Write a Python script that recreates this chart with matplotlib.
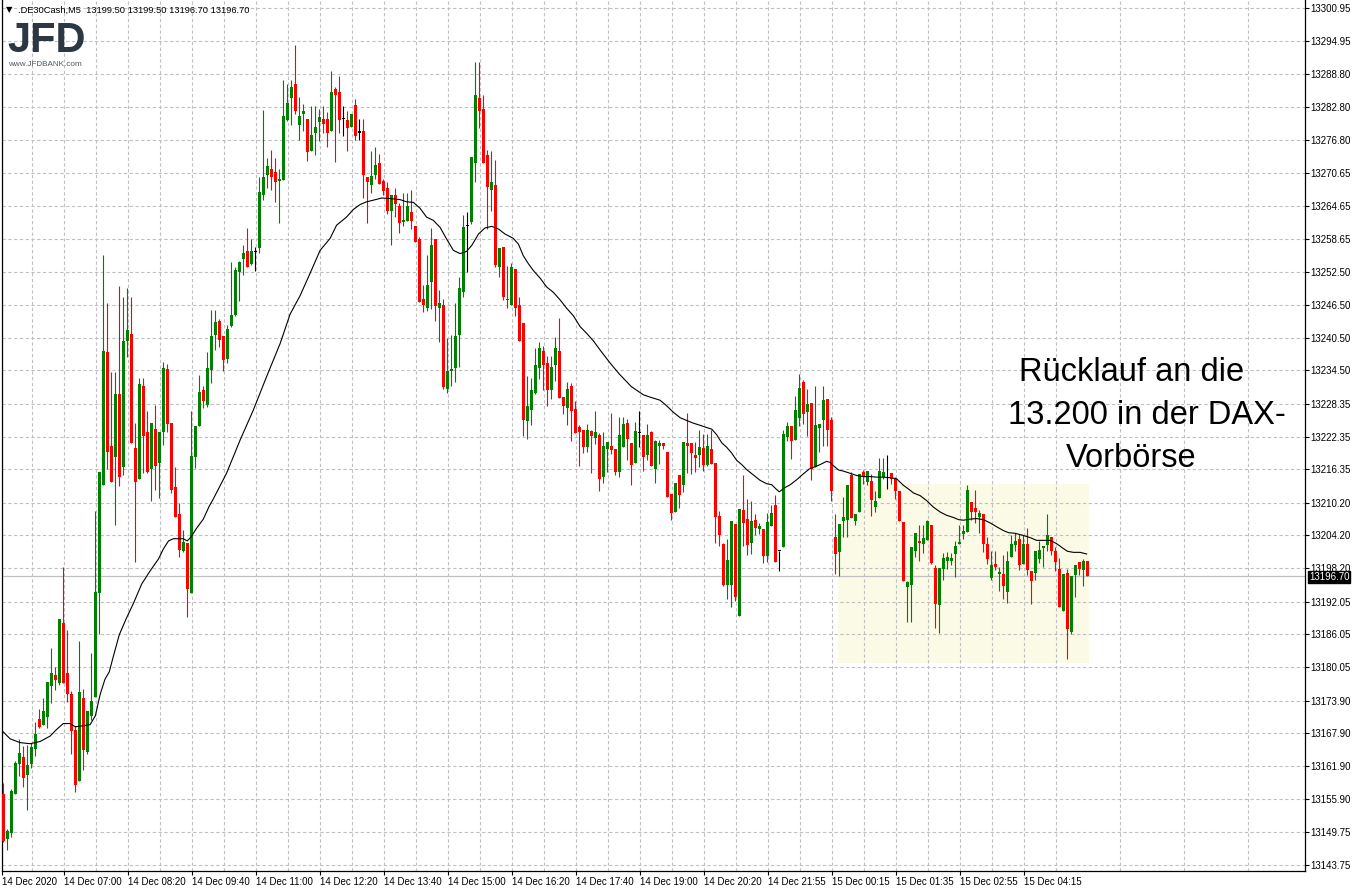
import matplotlib
matplotlib.use("Agg")
import matplotlib.pyplot as plt
import matplotlib.transforms as mtransforms
from matplotlib.patches import Rectangle
import numpy as np

# DE30 M5 candles (candle 1 = first bar on the left)
opens = [
    13156.7, 13148.6, 13149.6, 13156.8, 13162.2, 13163.6, 13160.2, 13162.2, 13165.0, 13170.6,
    13169.5, 13170.9, 13176.5, 13178.6, 13177.2, 13188.2, 13178.9, 13175.1, 13168.5, 13159.1,
    13174.4, 13164.4, 13171.1, 13174.5, 13193.6, 13213.5, 13237.9, 13220.6, 13218.5, 13230.2,
    13216.7, 13239.9, 13241.2, 13220.2, 13214.6, 13231.6, 13223.2, 13216.4, 13223.7, 13217.4,
    13223.2, 13234.7, 13224.9, 13213.1, 13208.2, 13201.4, 13202.8, 13193.6, 13218.5, 13224.2,
    13230.8, 13228.1, 13234.6, 13240.9, 13243.6, 13240.7, 13236.6, 13242.6, 13244.6, 13252.5,
    13254.9, 13256.3, 13254.0, 13256.2, 13257.0, 13266.6, 13270.4, 13271.5, 13270.8, 13269.3,
    13269.4, 13280.4, 13284.4, 13287.1, 13279.4, 13281.5, 13280.5, 13274.8, 13278.1, 13280.0,
    13280.5, 13280.5, 13278.3, 13286.1, 13285.6, 13280.6, 13280.4, 13279.1, 13283.2, 13278.1,
    13278.3, 13270.0, 13268.5, 13270.4, 13272.6, 13269.2, 13268.0, 13263.7, 13266.6, 13264.6,
    13261.7, 13261.9, 13263.6, 13261.0, 13258.5, 13247.5, 13245.9, 13250.7, 13258.5, 13246.0,
    13246.5, 13231.0, 13234.3, 13234.9, 13241.0, 13248.9, 13261.0, 13261.7, 13272.5, 13284.5,
    13282.5, 13274.0, 13267.5, 13268.5, 13253.4, 13257.2, 13247.6, 13246.5, 13253.0, 13246.5,
    13243.1, 13225.2, 13227.3, 13230.3, 13234.9, 13238.0, 13235.9, 13230.9, 13235.4, 13238.1,
    13229.6, 13227.6, 13231.7, 13227.4, 13224.1, 13223.6, 13220.4, 13223.4, 13222.0, 13222.7,
    13214.9, 13220.1, 13220.7, 13220.1, 13215.8, 13220.4, 13224.8, 13221.1, 13217.5, 13223.0,
    13222.7, 13218.9, 13223.1, 13216.4, 13220.6, 13221.2, 13219.6, 13211.8, 13208.5, 13215.2,
    13213.5, 13221.1, 13221.1, 13219.0, 13219.0, 13220.2, 13217.2, 13220.1, 13217.5, 13207.8,
    13202.7, 13195.2, 13195.2, 13206.3, 13189.5, 13208.8, 13207.2, 13202.9, 13207.1, 13205.3,
    13205.4, 13200.5, 13206.0, 13209.8, 13201.3, 13202.0, 13222.2, 13224.3, 13221.8, 13225.7,
    13232.4, 13226.8, 13228.5, 13216.7, 13224.0, 13225.3, 13229.3, 13225.4, 13204.0, 13201.1,
    13206.8, 13207.0, 13215.2, 13206.9, 13208.5, 13215.8, 13214.0, 13214.1, 13209.4, 13211.0,
    13215.0, 13214.8, 13215.7, 13214.6, 13212.3, 13206.6, 13194.8, 13195.1, 13201.4, 13203.2,
    13202.6, 13203.3, 13206.2, 13198.3, 13191.4, 13198.0, 13199.5, 13199.5, 13200.8, 13202.7,
    13204.4, 13204.8, 13210.3, 13209.3, 13207.6, 13208.2, 13202.6, 13196.4, 13199.0, 13197.2,
    13197.2, 13193.8, 13200.3, 13202.4, 13203.6, 13199.0, 13202.7, 13197.7, 13197.3, 13199.9,
    13201.9, 13202.5, 13204.0, 13201.3, 13198.1, 13190.4, 13197.3, 13186.5, 13197.0, 13199.4,
    13197.9, 13199.5,
]
highs = [
    13158.8, 13150.3, 13157.7, 13162.9, 13166.8, 13165.5, 13165.8, 13166.2, 13169.9, 13172.4,
    13174.4, 13177.3, 13183.6, 13180.0, 13188.9, 13198.4, 13186.9, 13175.7, 13169.3, 13184.9,
    13176.0, 13172.0, 13182.7, 13208.6, 13215.9, 13255.6, 13246.9, 13234.2, 13234.2, 13250.0,
    13248.0, 13249.5, 13248.0, 13224.9, 13233.1, 13233.1, 13227.0, 13224.8, 13228.1, 13223.2,
    13236.0, 13235.7, 13224.9, 13216.7, 13210.2, 13205.2, 13202.8, 13227.0, 13224.2, 13233.6,
    13231.7, 13237.8, 13245.6, 13245.6, 13243.9, 13240.7, 13242.8, 13254.4, 13253.5, 13254.5,
    13257.5, 13260.6, 13258.5, 13257.1, 13270.0, 13282.2, 13273.5, 13274.9, 13273.5, 13271.4,
    13287.8, 13287.1, 13287.8, 13294.1, 13284.6, 13283.3, 13280.5, 13283.0, 13283.0, 13282.4,
    13283.0, 13281.8, 13289.4, 13286.5, 13288.5, 13283.0, 13282.1, 13281.5, 13284.2, 13280.5,
    13280.5, 13270.0, 13274.7, 13275.5, 13274.1, 13269.6, 13269.0, 13266.6, 13268.0, 13265.2,
    13267.1, 13267.1, 13267.6, 13261.0, 13258.9, 13250.1, 13255.7, 13260.6, 13258.5, 13249.3,
    13247.5, 13240.5, 13241.0, 13246.9, 13251.6, 13263.0, 13263.6, 13273.6, 13291.1, 13291.1,
    13285.0, 13274.9, 13274.8, 13273.1, 13257.0, 13257.2, 13253.6, 13254.1, 13253.0, 13248.0,
    13243.1, 13233.5, 13233.0, 13238.5, 13239.6, 13238.9, 13237.2, 13237.2, 13240.6, 13244.0,
    13229.6, 13232.3, 13232.2, 13228.9, 13224.4, 13223.6, 13224.6, 13223.6, 13227.0, 13223.0,
    13223.2, 13221.3, 13226.6, 13220.1, 13226.0, 13226.0, 13225.6, 13221.1, 13225.0, 13227.0,
    13222.7, 13224.6, 13223.3, 13221.7, 13221.7, 13221.2, 13219.6, 13211.8, 13213.8, 13215.2,
    13221.3, 13226.6, 13221.1, 13221.3, 13223.6, 13222.8, 13222.8, 13223.6, 13217.5, 13208.6,
    13202.9, 13203.5, 13206.9, 13206.3, 13209.1, 13215.2, 13210.9, 13210.6, 13208.2, 13206.4,
    13205.4, 13208.4, 13209.7, 13211.7, 13201.3, 13223.5, 13225.1, 13224.3, 13229.7, 13233.9,
    13232.8, 13231.0, 13228.5, 13231.7, 13224.6, 13231.7, 13229.3, 13226.0, 13208.2, 13206.3,
    13211.3, 13213.5, 13215.8, 13208.1, 13215.5, 13216.2, 13216.1, 13215.4, 13212.4, 13218.4,
    13218.4, 13219.0, 13215.7, 13215.0, 13212.3, 13206.6, 13195.9, 13202.1, 13204.7, 13206.1,
    13206.1, 13207.1, 13206.2, 13198.8, 13198.3, 13201.0, 13201.2, 13201.0, 13203.2, 13206.1,
    13206.1, 13213.5, 13210.3, 13212.6, 13208.9, 13208.2, 13204.0, 13201.4, 13201.4, 13198.5,
    13200.7, 13201.4, 13204.2, 13204.6, 13204.5, 13204.2, 13205.6, 13197.7, 13201.3, 13203.2,
    13202.2, 13208.1, 13204.0, 13202.1, 13200.1, 13197.2, 13198.1, 13196.7, 13198.7, 13199.4,
    13199.9, 13199.5,
]
lows = [
    13147.9, 13146.5, 13148.9, 13156.8, 13160.0, 13158.1, 13153.9, 13161.5, 13163.7, 13168.8,
    13169.4, 13168.9, 13173.5, 13175.8, 13176.7, 13177.2, 13173.7, 13164.1, 13157.2, 13159.1,
    13161.2, 13164.1, 13170.4, 13174.5, 13186.1, 13213.5, 13216.3, 13214.0, 13206.2, 13213.2,
    13215.2, 13236.9, 13221.1, 13199.3, 13214.5, 13215.7, 13215.7, 13210.5, 13212.6, 13211.0,
    13220.8, 13223.1, 13212.0, 13207.6, 13200.2, 13201.1, 13189.2, 13193.6, 13216.5, 13224.2,
    13227.5, 13227.8, 13232.2, 13238.3, 13238.8, 13234.4, 13235.8, 13242.4, 13244.5, 13247.2,
    13252.0, 13253.5, 13253.9, 13252.8, 13256.0, 13265.8, 13268.0, 13267.5, 13265.3, 13261.5,
    13269.4, 13280.2, 13279.5, 13281.5, 13276.8, 13278.3, 13272.9, 13274.8, 13273.9, 13276.5,
    13278.0, 13275.4, 13278.3, 13272.7, 13278.0, 13277.4, 13274.7, 13279.1, 13276.8, 13276.7,
    13266.1, 13261.5, 13267.0, 13269.6, 13268.6, 13266.6, 13263.1, 13257.4, 13262.6, 13259.6,
    13260.9, 13261.9, 13260.4, 13258.0, 13247.1, 13245.1, 13245.3, 13245.8, 13243.5, 13239.6,
    13231.0, 13230.4, 13231.6, 13232.4, 13235.1, 13247.9, 13252.5, 13261.4, 13269.1, 13278.9,
    13272.6, 13260.4, 13263.8, 13253.4, 13251.6, 13247.3, 13245.9, 13246.5, 13244.5, 13239.8,
    13222.4, 13221.9, 13224.5, 13230.2, 13232.9, 13230.9, 13227.9, 13229.3, 13232.6, 13229.4,
    13226.5, 13224.4, 13221.5, 13223.0, 13216.9, 13219.3, 13219.5, 13215.7, 13221.0, 13212.4,
    13213.8, 13215.8, 13219.2, 13215.2, 13214.9, 13220.4, 13218.0, 13213.5, 13217.5, 13220.4,
    13216.1, 13218.1, 13216.9, 13213.8, 13217.3, 13220.1, 13211.2, 13207.1, 13208.5, 13209.3,
    13212.1, 13215.6, 13215.5, 13215.8, 13216.8, 13216.1, 13217.0, 13217.3, 13202.9, 13202.3,
    13195.0, 13192.5, 13191.0, 13192.1, 13189.5, 13202.3, 13200.7, 13200.8, 13204.3, 13204.5,
    13199.2, 13199.4, 13206.0, 13199.4, 13197.6, 13202.0, 13221.5, 13218.2, 13221.8, 13224.2,
    13224.7, 13222.5, 13214.3, 13216.7, 13219.5, 13220.7, 13220.7, 13210.6, 13197.1, 13196.8,
    13203.9, 13203.9, 13207.4, 13206.2, 13208.5, 13213.7, 13213.4, 13207.8, 13208.5, 13211.0,
    13214.6, 13212.7, 13213.7, 13210.9, 13206.9, 13195.8, 13188.3, 13188.4, 13200.2, 13199.5,
    13200.9, 13203.3, 13198.9, 13187.2, 13186.3, 13196.1, 13198.1, 13198.8, 13196.5, 13202.7,
    13203.6, 13204.8, 13207.0, 13206.4, 13204.7, 13201.2, 13198.9, 13196.1, 13197.8, 13194.0,
    13192.6, 13191.8, 13200.3, 13201.4, 13197.9, 13198.9, 13196.9, 13191.7, 13196.1, 13199.2,
    13198.5, 13201.4, 13200.7, 13197.7, 13191.0, 13190.4, 13181.6, 13186.1, 13192.9, 13196.9,
    13195.0, 13196.7,
]
closes = [
    13148.2, 13150.0, 13157.4, 13162.4, 13164.3, 13159.8, 13162.1, 13165.4, 13167.8, 13169.1,
    13172.0, 13177.3, 13179.0, 13177.7, 13188.9, 13177.2, 13175.2, 13168.3, 13158.4, 13175.5,
    13164.8, 13172.0, 13173.8, 13193.9, 13215.9, 13238.1, 13219.5, 13214.0, 13230.1, 13215.0,
    13239.9, 13241.8, 13221.1, 13214.0, 13232.0, 13222.5, 13215.9, 13224.8, 13217.0, 13223.2,
    13235.0, 13224.7, 13212.6, 13207.6, 13201.6, 13203.0, 13194.3, 13218.8, 13224.2, 13230.5,
    13228.9, 13235.0, 13240.7, 13243.4, 13240.0, 13236.3, 13242.1, 13244.6, 13252.9, 13254.4,
    13256.1, 13253.5, 13256.4, 13256.2, 13267.2, 13270.0, 13272.0, 13269.9, 13269.0, 13269.6,
    13281.1, 13283.6, 13286.5, 13282.1, 13281.1, 13282.1, 13274.5, 13277.7, 13279.1, 13281.0,
    13279.7, 13278.0, 13285.6, 13285.0, 13280.4, 13280.6, 13278.9, 13281.5, 13277.4, 13278.1,
    13270.4, 13269.0, 13270.2, 13272.1, 13268.6, 13267.4, 13263.8, 13266.6, 13265.0, 13261.5,
    13262.1, 13264.6, 13261.8, 13258.0, 13247.1, 13246.5, 13250.1, 13257.5, 13246.3, 13246.9,
    13231.5, 13234.3, 13234.8, 13240.8, 13249.6, 13260.7, 13261.0, 13273.6, 13285.0, 13282.1,
    13272.6, 13268.1, 13269.1, 13253.8, 13257.0, 13247.9, 13247.3, 13253.5, 13246.0, 13239.9,
    13225.3, 13228.0, 13230.8, 13235.5, 13238.5, 13235.4, 13230.9, 13235.1, 13238.5, 13229.4,
    13227.9, 13231.1, 13227.0, 13223.0, 13223.2, 13220.5, 13223.5, 13222.4, 13223.1, 13214.6,
    13220.7, 13221.3, 13219.8, 13215.8, 13222.7, 13224.6, 13221.9, 13217.2, 13223.3, 13223.0,
    13218.6, 13222.7, 13216.9, 13221.5, 13221.1, 13220.6, 13211.2, 13208.3, 13213.8, 13211.6,
    13221.3, 13220.6, 13219.3, 13218.4, 13220.5, 13217.2, 13220.7, 13217.3, 13207.6, 13204.2,
    13195.2, 13199.7, 13206.9, 13193.0, 13209.1, 13206.5, 13202.4, 13206.9, 13205.6, 13205.9,
    13200.4, 13206.6, 13208.4, 13199.4, 13201.3, 13222.9, 13224.2, 13221.6, 13227.3, 13231.3,
    13226.5, 13228.4, 13216.4, 13224.4, 13224.6, 13229.1, 13223.6, 13212.3, 13200.8, 13206.3,
    13207.5, 13213.5, 13207.4, 13208.1, 13215.5, 13215.0, 13216.1, 13210.7, 13210.6, 13216.0,
    13215.9, 13214.8, 13214.6, 13212.3, 13206.9, 13195.9, 13195.6, 13202.1, 13204.7, 13202.8,
    13203.7, 13206.9, 13199.2, 13191.7, 13198.3, 13200.1, 13200.2, 13200.1, 13202.2, 13203.0,
    13205.1, 13212.5, 13208.5, 13208.5, 13208.3, 13202.7, 13199.8, 13198.7, 13198.5, 13197.5,
    13195.0, 13199.6, 13202.7, 13203.1, 13198.7, 13202.7, 13197.8, 13195.8, 13201.3, 13201.6,
    13202.2, 13204.2, 13201.4, 13199.3, 13191.0, 13197.2, 13187.1, 13196.7, 13198.7, 13198.1,
    13199.6, 13196.7,
]

# moving average line (black), read at these candle positions
ma_pos = [
    0.8, 2.7, 5.2, 7.7, 10.2, 12.7, 14.3, 16.0, 17.7, 19.0, 21.0, 22.7, 24.0, 25.2, 26.4,
    27.5, 28.5, 30.0, 31.7, 33.5, 35.6, 37.7, 39.8, 41.0, 42.3, 43.5, 46.0, 47.0, 48.0,
    49.3, 51.0, 52.5, 53.5, 56.8, 60.2, 63.5, 66.8, 70.2, 72.7, 75.2, 77.7, 80.2, 82.7,
    84.3, 86.8, 88.5, 90.2, 91.8, 93.5, 95.6, 97.7, 100.2, 101.8, 103.5, 105.2, 106.8,
    108.5, 110.2, 111.8, 113.5, 115.2, 116.8, 118.1, 119.8, 121.4, 123.1, 124.8, 126.4,
    128.5, 129.8, 131.0, 132.3, 133.5, 135.2, 136.8, 138.5, 140.2, 141.8, 143.5, 145.2,
    146.8, 148.5, 150.2, 152.5, 155.0, 158.0, 161.0, 163.0, 165.2, 166.8, 168.5, 170.2,
    171.8, 173.5, 175.2, 176.8, 178.1, 179.3, 180.6, 181.8, 183.1, 184.3, 185.6, 186.8,
    188.5, 190.2, 191.8, 193.1, 194.2, 195.0, 196.2, 197.7, 199.3, 201.0, 202.5, 203.5,
    205.2, 206.8, 207.7, 208.5, 209.8, 211.0, 212.7, 214.3, 216.0, 217.7, 219.3, 221.0,
    222.7, 224.3, 226.0, 227.5, 228.5, 230.2, 231.8, 233.5, 235.2, 236.8, 238.5, 239.8,
    241.0, 242.7, 244.3, 246.0, 247.7, 249.3, 251.0, 252.3, 253.9, 256.0, 257.7, 259.3,
    261.0, 262.7, 264.3, 266.0, 267.0, 268.5, 270.2, 271.8,
]
ma_val = [
    13168.3, 13166.9, 13166.2, 13166.0, 13166.4, 13167.4, 13168.6, 13169.7, 13169.7, 13169.1,
    13169.3, 13169.5, 13171.1, 13175.0, 13177.8, 13179.2, 13182.0, 13186.0, 13188.9, 13191.7,
    13195.3, 13197.7, 13199.9, 13201.7, 13203.2, 13203.6, 13203.6, 13203.2, 13204.0, 13205.5,
    13207.2, 13209.6, 13210.9, 13215.6, 13221.7, 13227.2, 13233.3, 13239.4, 13244.8, 13248.2,
    13252.3, 13256.5, 13258.7, 13261.1, 13262.6, 13264.0, 13264.9, 13265.4, 13265.7, 13266.1,
    13266.0, 13265.8, 13265.4, 13265.3, 13264.2, 13262.6, 13262.0, 13260.7, 13258.6, 13256.5,
    13255.9, 13256.3, 13257.4, 13259.5, 13260.6, 13260.9, 13260.4, 13259.5, 13258.7, 13257.6,
    13255.5, 13254.0, 13252.8, 13251.4, 13249.8, 13248.8, 13247.4, 13245.9, 13244.5, 13242.5,
    13241.3, 13239.9, 13238.2, 13236.0, 13233.8, 13231.5, 13230.0, 13229.5, 13229.0, 13228.0,
    13226.8, 13225.8, 13225.3, 13224.8, 13224.4, 13224.0, 13223.7, 13222.7, 13221.2, 13220.4,
    13219.3, 13218.0, 13217.2, 13216.3, 13215.3, 13214.3, 13213.7, 13213.5, 13212.7, 13212.2,
    13212.9, 13213.5, 13214.4, 13215.5, 13216.4, 13216.7, 13217.2, 13217.8, 13217.6, 13217.0,
    13216.2, 13216.0, 13215.6, 13215.2, 13215.0, 13215.0, 13214.9, 13214.9, 13214.8, 13214.6,
    13213.4, 13212.6, 13212.0, 13211.5, 13210.6, 13209.4, 13208.5, 13207.9, 13207.5, 13207.1,
    13207.0, 13207.2, 13207.3, 13207.1, 13206.5, 13205.8, 13205.1, 13204.7, 13204.6, 13204.2,
    13203.8, 13203.3, 13203.3, 13203.3, 13202.7, 13201.8, 13201.3, 13201.1, 13201.1, 13200.8,
]

price_ticks = [
    13300.95, 13294.95, 13288.80, 13282.80, 13276.80, 13270.65, 13264.65, 13258.65, 13252.50,
    13246.50, 13240.50, 13234.50, 13228.35, 13222.35, 13216.35, 13210.20, 13204.20, 13198.20,
    13192.05, 13186.05, 13180.05, 13173.90, 13167.90, 13161.90, 13155.90, 13149.75, 13143.75,
]
time_labels = [
    "14 Dec 2020", "14 Dec 07:00", "14 Dec 08:20", "14 Dec 09:40", "14 Dec 11:00",
    "14 Dec 12:20", "14 Dec 13:40", "14 Dec 15:00", "14 Dec 16:20", "14 Dec 17:40",
    "14 Dec 19:00", "14 Dec 20:20", "14 Dec 21:55", "15 Dec 00:15", "15 Dec 01:35",
    "15 Dec 02:55", "15 Dec 04:15",
]
last_price = 13196.70
header = ".DE30Cash,M5  13199.50 13199.50 13196.70 13196.70"
note_lines = ["Rücklauf an die", "13.200 in der DAX-", "Vorbörse"]

# highlighted zone (bar range, price range)
zone_bars = (209.6, 272.4)
zone_prices = (13180.8, 13213.6)

GREEN = "#008000"
RED = "#ff0000"
GRID = "#c0c0c0"

plt.rcParams["font.family"] = ["Liberation Sans", "DejaVu Sans"]

W, H = 1356, 889
fig = plt.figure(figsize=(W / 100, H / 100), dpi=100)
ax = fig.add_axes([2 / W, 18 / H, 1303 / W, 871 / H])
ax.set_xlim(0.675, 326.4)
ax.set_ylim(13142.65, 13302.42)

o = np.array(opens)
h = np.array(highs)
l = np.array(lows)
c = np.array(closes)
n = np.arange(1, len(o) + 1)
cols = np.where(c > o, GREEN, np.where(c < o, RED, "black"))

# zone behind everything
ax.add_patch(Rectangle((zone_bars[0], zone_prices[0]), zone_bars[1] - zone_bars[0],
                       zone_prices[1] - zone_prices[0], facecolor="#fafae6",
                       edgecolor="none", zorder=0.2))

ax.axhline(last_price, color=GRID, lw=0.9, zorder=1)

ax.vlines(n, l, h, colors=cols, linewidth=0.8, zorder=3)
ax.bar(n, np.maximum(np.abs(c - o), 0.2), bottom=np.minimum(o, c), width=0.75,
       color=cols, linewidth=0, zorder=4)

ax.plot(ma_pos, ma_val, color="black", lw=0.8, zorder=5)

# axes & grid
ax.set_axisbelow(True)
ax.yaxis.tick_right()
ax.set_yticks(price_ticks)
ax.set_yticklabels([f"{p:.2f}" for p in price_ticks])
label_pos = [0.75] + [16 * k + 0.25 for k in range(1, len(time_labels))]
ax.set_xticks(label_pos)
ax.set_xticklabels(time_labels)
shift = mtransforms.ScaledTranslation(2 / 100, 0, fig.dpi_scale_trans)
for lbl in ax.get_xticklabels():
    lbl.set_horizontalalignment("left")
    lbl.set_transform(lbl.get_transform() + shift)
ax.set_xticks([8 * j + 0.25 for j in range(1, 41, 2)], minor=True)
ax.tick_params(axis="y", labelsize=7, length=3, pad=1, width=0.8)
ax.tick_params(axis="x", which="major", labelsize=7, length=3, pad=1, width=0.8)
ax.tick_params(axis="x", which="minor", length=0)
ax.grid(True, which="both", color=GRID, lw=0.8, dashes=(3, 2.2))
for side in ("left", "right", "bottom"):
    ax.spines[side].set_linewidth(0.9)
ax.spines["top"].set_visible(False)

# current price box
trans = mtransforms.blended_transform_factory(ax.transAxes, ax.transData)
ax.text(1.0 + 4 / 1303, last_price - 0.1, f"{last_price:.2f}", transform=trans, ha="left",
        va="center", fontsize=7, color="white", zorder=10, clip_on=False,
        bbox=dict(boxstyle="square,pad=0.1", fc="black", ec="black"))

# annotation (three separately placed lines, as in the original)
note_x = [283.0, 287.0, 283.0]
for i, txt in enumerate(note_lines):
    ax.text(note_x[i], 13234.0 - i * 7.8, txt, ha="center", va="center", fontsize=23.5,
            color="black", zorder=6)

# header and logo
fig.text(6 / W, 1 - 10 / H, "\u25bc", fontsize=6, va="center", ha="left",
         family=["DejaVu Sans"])
fig.text(18 / W, 1 - 10 / H, header, fontsize=6.7, va="center", ha="left")
fig.text(7 / W, 1 - 41 / H, "JFD", fontsize=30, fontweight="bold", color="#2d3741",
         va="center", ha="left")
fig.text(8 / W, 1 - 65 / H, "www.JFDBANK.com", fontsize=5.9, color="#505a64",
         va="center", ha="left")

fig.savefig("out.png", dpi=100, facecolor="white")
